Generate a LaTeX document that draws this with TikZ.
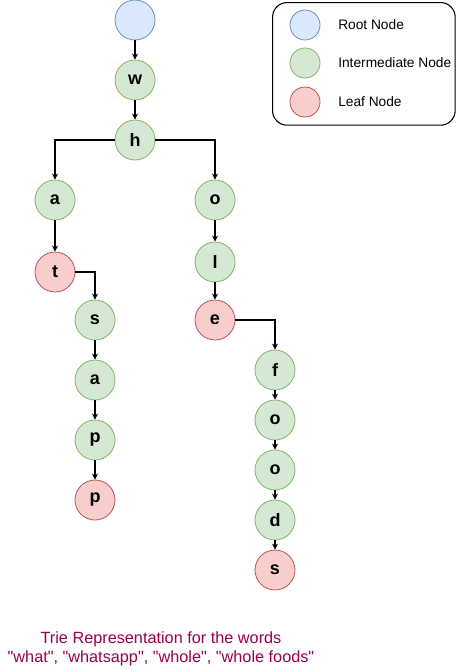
\documentclass[tikz,border=0pt]{standalone}
\usepackage{fontspec}
\setmainfont{Liberation Sans}[Ligatures=TeXOff]
\usetikzlibrary{positioning, arrows.meta}
\definecolor{rootFill}{RGB}{218,232,252}
\definecolor{rootDraw}{RGB}{108,142,191}
\definecolor{midFill}{RGB}{213,232,212}
\definecolor{midDraw}{RGB}{130,179,102}
\definecolor{leafFill}{RGB}{248,206,204}
\definecolor{leafDraw}{RGB}{184,84,80}
\definecolor{captionColor}{RGB}{153,0,77}
\def\colRoot{135}
\def\colLeft{55}
\def\colSapp{95}
\def\colRight{215}
\def\colFoods{275}

\begin{document}
\begin{tikzpicture}[x=0.75pt, y=-0.75pt,
    >={Stealth[length=4.5pt, width=4.5pt]},
    arrow/.style    ={->, line width=0.8pt, black},
    trieNode/.style ={circle, line width=0.6pt, minimum size=30pt, inner sep=0pt,
                      font=\fontsize{13.5}{13.5}\selectfont\bfseries},
    rootNode/.style ={trieNode, fill=rootFill, draw=rootDraw},
    midNode/.style  ={trieNode, fill=midFill, draw=midDraw},
    leafNode/.style ={trieNode, fill=leafFill, draw=leafDraw},
    keyDot/.style   ={circle, line width=0.6pt, minimum size=22.5pt, inner sep=0pt},
    keyText/.style  ={anchor=west, inner sep=0pt, font=\fontsize{10.3}{10.3}\selectfont},
]
\useasboundingbox (0,0) rectangle (466,671);

% =====================================================
% Trunk: root -> w -> h
% =====================================================
\node[rootNode] (root) at (\colRoot,20)  {};
\node[midNode]  (w)    at (\colRoot,80)  {w};
\node[midNode]  (h)    at (\colRoot,140) {h};

% =====================================================
% LEFT BRANCH: a t (s a p p)
% =====================================================
\node[midNode]  (a1) at (\colLeft,200) {a};
\node[leafNode] (t)  at (\colLeft,272) {t};
\node[midNode]  (s1) at (\colSapp,320) {s};
\node[midNode]  (a2) at (\colSapp,380) {a};
\node[midNode]  (p1) at (\colSapp,440) {p};
\node[leafNode] (p2) at (\colSapp,500) {p};

% =====================================================
% RIGHT BRANCH: o l e (f o o d s)
% =====================================================
\node[midNode]  (o1) at (\colRight,200) {o};
\node[midNode]  (l)  at (\colRight,262) {l};
\node[leafNode] (e)  at (\colRight,320) {e};
\node[midNode]  (f)  at (\colFoods,370) {f};
\node[midNode]  (o2) at (\colFoods,420) {o};
\node[midNode]  (o3) at (\colFoods,470) {o};
\node[midNode]  (d)  at (\colFoods,520) {d};
\node[leafNode] (s2) at (\colFoods,570) {s};

% =====================================================
% Edges
% =====================================================
\draw[arrow] (root) -- (w);
\draw[arrow] (w)    -- (h);
\draw[arrow] (h.west) -| (a1.north);
\draw[arrow] (h.east) -| (o1.north);

\draw[arrow] (a1) -- (t);
\draw[arrow] (t.east) -| (s1.north);
\draw[arrow] (s1) -- (a2);
\draw[arrow] (a2) -- (p1);
\draw[arrow] (p1) -- (p2);

\draw[arrow] (o1) -- (l);
\draw[arrow] (l)  -- (e);
\draw[arrow] (e.east) -| (f.north);
\draw[arrow] (f)  -- (o2);
\draw[arrow] (o2) -- (o3);
\draw[arrow] (o3) -- (d);
\draw[arrow] (d)  -- (s2);

% =====================================================
% Legend
% =====================================================
\node[draw=black, line width=0.8pt, rounded corners=11pt, minimum width=137pt, minimum height=92pt,
      anchor=north west] (legend) at (272,2) {};
\node[keyDot, fill=rootFill, draw=rootDraw] (keyRoot) at (305,25)  {};
\node[keyDot, fill=midFill,  draw=midDraw]  (keyMid)  at (305,63)  {};
\node[keyDot, fill=leafFill, draw=leafDraw] (keyLeaf) at (305,102) {};
\node[keyText] (keyRootText) at (338,25)  {Root Node};
\node[keyText] (keyMidText)  at (338,63)  {Intermediate Node};
\node[keyText] (keyLeafText) at (338,102) {Leaf Node};

% Caption
\node[align=center, text=captionColor, font=\fontsize{12.2}{14.5}\selectfont] (caption) at (161,649)
     {Trie Representation for the words\\"what", "whatsapp", "whole", "whole foods"};

\end{tikzpicture}
\end{document}
